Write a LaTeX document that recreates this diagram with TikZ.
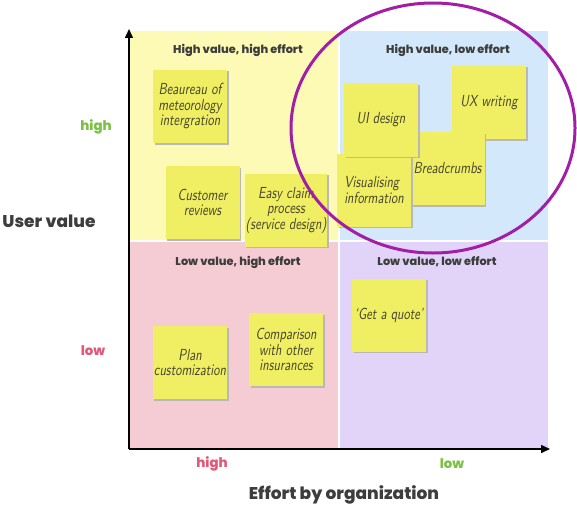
\documentclass[tikz,border=0pt]{standalone}
\usepackage{fontspec}
\usetikzlibrary{arrows.meta,shadows}
\newfontfamily\headfont{Poppins}[BoldFont={Poppins ExtraBold}]
\newfontfamily\handfont{lmsans10-oblique.otf}[FakeStretch=0.78]
\definecolor{quadyellow}{HTML}{FCFAB4}
\definecolor{quadblue}{HTML}{D3E8FA}
\definecolor{quadpink}{HTML}{F5CCD4}
\definecolor{quadpurple}{HTML}{E1D4F8}
\definecolor{notefill}{HTML}{F0EE62}
\definecolor{inkgray}{HTML}{3D3D3D}
\definecolor{notepen}{HTML}{45452C}
\definecolor{higreen}{HTML}{7CC144}
\definecolor{lored}{HTML}{E05A78}
\definecolor{ringpurple}{HTML}{A21EA6}

\begin{document}
\begin{tikzpicture}[x=1pt,y=-1pt,
    note/.style={fill=notefill, minimum width=74pt, minimum height=73pt, inner sep=1pt,
      align=center, text=notepen, font=\handfont\fontsize{16}{15.5}\selectfont,
      drop shadow={shadow xshift=1.5pt, shadow yshift=-1.5pt, fill=black!28, opacity=1}},
    quadtitle/.style={text=inkgray, font=\headfont\bfseries\fontsize{11.3}{13}\selectfont},
    axistitle/.style={text=inkgray, font=\headfont\bfseries\fontsize{17}{19}\selectfont},
    ticklabel/.style={font=\headfont\bfseries\fontsize{13.3}{15}\selectfont}]
    \useasboundingbox (0,0) rectangle (577,508);

    % Quadrants
    \fill[quadyellow] (130,31) rectangle (338,240);
    \fill[quadblue]   (340,31) rectangle (548,240);
    \fill[quadpink]   (130,242) rectangle (338,449);
    \fill[quadpurple] (340,242) rectangle (548,449);

    % Axes
    \coordinate (origin) at (129,449);
    \coordinate (ytip) at (129,29);
    \coordinate (xtip) at (550,449);
    \draw[line width=1.5pt, -{Triangle[length=9pt,width=8pt]}] (origin) -- (ytip);
    \draw[line width=1.5pt, -{Triangle[length=9pt,width=8pt]}] (origin) -- (xtip);

    % Quadrant titles
    \node[quadtitle] (hvhe) at (238,50) {High value, high effort};
    \node[quadtitle] (hvle) at (448,50) {High value, low effort};
    \node[quadtitle] (lvhe) at (238,262) {Low value, high effort};
    \node[quadtitle] (lvle) at (437,262) {Low value, low effort};

    % Axis labels
    \node[axistitle] (uservalue) at (49,221) {User value};
    \node[axistitle] (effort) at (344,495) {Effort by organization};
    \node[ticklabel, text=higreen] (yhigh) at (96,127) {high};
    \node[ticklabel, text=lored] (ylow) at (93,351) {low};
    \node[ticklabel, text=lored] (xhigh) at (212,464) {high};
    \node[ticklabel, text=higreen] (xlow) at (452,464) {low};

    % Sticky notes
    \node[note] (bom) at (190,106.5) {Beaureau of\\meteorology\\intergration};
    \node[note] (reviews) at (202.5,202.5) {Customer\\reviews};
    \node[note] (claim) at (286,210) {Easy claim\\process\\(service design)};
    \node[note] (plan) at (190,362.5) {Plan\\customization};
    \node[note] (compare) at (286,349.5) {Comparison\\with other\\insurances};
    \node[note] (quote) at (389,315) {‘Get a quote’};
    \node[note] (uxwriting) at (489,102.5) {UX writing};
    \node[note] (breadcrumbs) at (447.5,168.5) {Breadcrumbs};
    \node[note, align=left] (visual) at (374,190) {Visualising\\information};
    \node[note] (uidesign) at (381,120) {UI design};

    % Ring round the quick wins
    \draw[ringpurple, line width=3pt] (433,128) ellipse [x radius=142, y radius=125];
\end{tikzpicture}
\end{document}
